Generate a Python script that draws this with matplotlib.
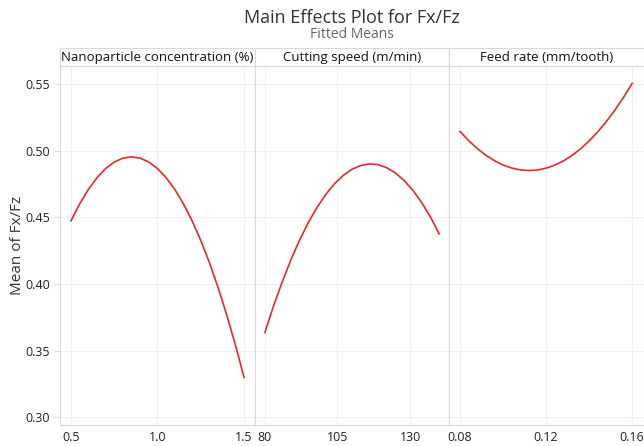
import matplotlib
matplotlib.use("Agg")
import matplotlib.pyplot as plt

plt.rcParams['font.family'] = ['Open Sans', 'DejaVu Sans']

# Fitted means
conc = [0.50, 0.55, 0.60, 0.65, 0.70, 0.75, 0.80, 0.85, 0.90, 0.95, 1.00,
        1.05, 1.10, 1.15, 1.20, 1.25, 1.30, 1.35, 1.40, 1.45, 1.50]
conc_mean = [0.4475, 0.4602, 0.4710, 0.4798, 0.4867, 0.4916, 0.4945, 0.4955, 0.4945, 0.4916, 0.4867,
             0.4798, 0.4710, 0.4602, 0.4475, 0.4328, 0.4161, 0.3975, 0.3769, 0.3544, 0.3299]

speed = [80, 83, 86, 89, 92, 95, 98, 101, 104, 107, 110,
         113, 116, 119, 122, 125, 128, 131, 134, 137, 140]
speed_mean = [0.3636, 0.3836, 0.4018, 0.4184, 0.4332, 0.4463, 0.4577, 0.4674, 0.4754, 0.4816, 0.4862,
              0.4890, 0.4902, 0.4896, 0.4873, 0.4833, 0.4776, 0.4702, 0.4611, 0.4503, 0.4377]

feed = [0.080, 0.084, 0.088, 0.092, 0.096, 0.100, 0.104, 0.108, 0.112, 0.116, 0.120,
        0.124, 0.128, 0.132, 0.136, 0.140, 0.144, 0.148, 0.152, 0.156, 0.160]
feed_mean = [0.5145, 0.5076, 0.5017, 0.4967, 0.4926, 0.4893, 0.4871, 0.4857, 0.4852, 0.4856, 0.4870,
             0.4893, 0.4924, 0.4965, 0.5015, 0.5075, 0.5143, 0.5220, 0.5307, 0.5402, 0.5507]

panel_titles = ['Nanoparticle concentration (%)', 'Cutting speed (m/min)', 'Feed rate (mm/tooth)']
xticks = [[0.5, 1.0, 1.5], [80, 105, 130], [0.08, 0.12, 0.16]]
xticklabels = [['0.5', '1.0', '1.5'], ['80', '105', '130'], ['0.08', '0.12', '0.16']]
xlims = [(0.4365, 1.5617), (76.5, 143.5), (0.0750, 0.1655)]
yticks = [0.30, 0.35, 0.40, 0.45, 0.50, 0.55]

W, H = 644, 446
fig = plt.figure(figsize=(W / 100, H / 100), dpi=100)

left_px, right_px = 60, 644
top_px, bot_px, strip_px = 66, 425, 48
pw = (right_px - left_px) / 3

xs = [conc, speed, feed]
ys = [conc_mean, speed_mean, feed_mean]
border = '#d9d9d9'

for i in range(3):
    x0 = (left_px + i * pw) / W
    ax = fig.add_axes([x0, 1 - bot_px / H, pw / W, (bot_px - top_px) / H])
    ax.plot(xs[i], ys[i], color='#e8282b', lw=1.2)
    ax.set_xlim(*xlims[i])
    ax.set_ylim(0.2942, 0.5637)
    ax.set_xticks(xticks[i])
    ax.set_xticklabels(xticklabels[i])
    ax.set_yticks(yticks)
    ax.grid(True, color='#f0f0f0', lw=0.8)
    ax.set_axisbelow(True)
    for s in ax.spines.values():
        s.set_color(border)
        s.set_linewidth(0.8)
    ax.tick_params(axis='x', length=0, labelsize=9, colors='#222222', pad=4)
    if i == 0:
        ax.set_yticklabels([f'{v:.2f}' for v in yticks])
        ax.tick_params(axis='y', length=4, color=border, labelsize=9, labelcolor='#222222', pad=3)
        ax.set_ylabel('Mean of Fx/Fz', fontsize=11, color='#333333')
        ax.yaxis.set_label_coords(-0.18, 0.5)
    else:
        ax.tick_params(axis='y', length=0, labelleft=False)

    # strip with panel title
    sax = fig.add_axes([x0, 1 - top_px / H, pw / W, (top_px - strip_px) / H])
    sax.set_xticks([])
    sax.set_yticks([])
    for s in sax.spines.values():
        s.set_color(border)
        s.set_linewidth(0.8)
    sax.text(0.5, 0.45, panel_titles[i], ha='center', va='center', fontsize=9.5,
             color='#111111', transform=sax.transAxes)

cx = (left_px + right_px) / 2 / W
fig.text(cx, 1 - 18 / H, 'Main Effects Plot for Fx/Fz', ha='center', va='center',
         fontsize=13, color='#333333')
fig.text(cx, 1 - 34 / H, 'Fitted Means', ha='center', va='center',
         fontsize=10, color='#666666')

fig.savefig('out.png', dpi=100)
